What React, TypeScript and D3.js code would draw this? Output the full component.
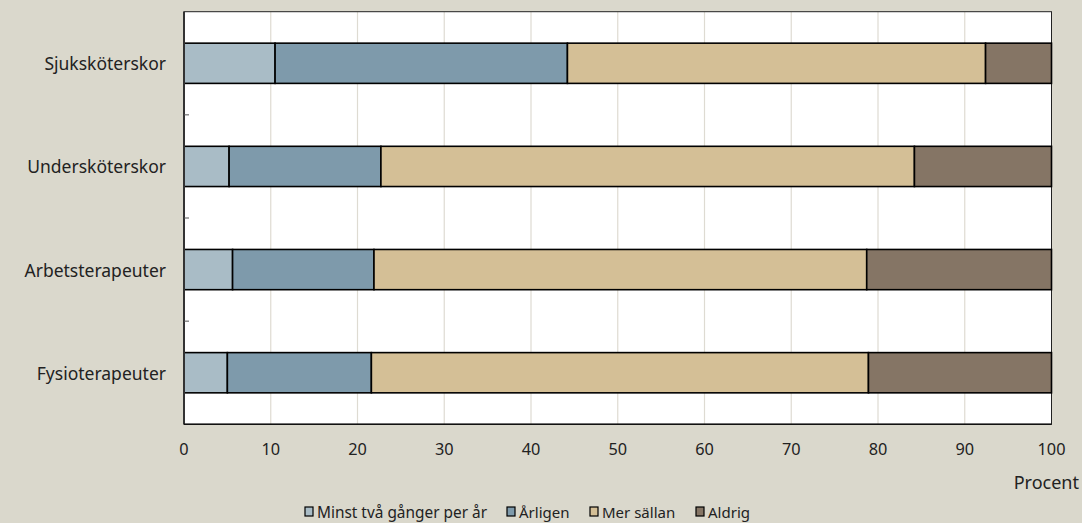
import React from "react";
import * as d3 from "d3";

const categories = ["Sjuksköterskor", "Undersköterskor", "Arbetsterapeuter", "Fysioterapeuter"];
const seriesNames = ["Minst två gånger per år", "Årligen", "Mer sällan", "Aldrig"];
const minstTva = [10.5, 5.2, 5.6, 5.0];
const arligen = [33.7, 17.5, 16.3, 16.6];
const merSallan = [48.2, 61.5, 56.8, 57.3];
const aldrig = [7.6, 15.8, 21.3, 21.1];
const xTicks = [0, 10, 20, 30, 40, 50, 60, 70, 80, 90, 100];
const colors = ["#A9BCC6", "#7E9AAB", "#D4BF96", "#857565"];

const W = 1082;
const H = 523;
const FONT = "'Noto Sans', 'DejaVu Sans', sans-serif";

export default function App() {
  const left = 184, right = 1051.5, top = 11.7, bottom = 424.3;
  const x = d3.scaleLinear().domain([0, 100]).range([left, right]);
  const y = d3.scaleBand<string>().domain(categories).range([top, bottom]).paddingInner(0.61).paddingOuter(0.305);
  const series = [minstTva, arligen, merSallan, aldrig];
  const rows = categories.map((c, i) => {
    let acc = 0;
    return series.map((s, k) => {
      const x0 = acc;
      acc += s[i];
      return { c, k, x0, x1: acc };
    });
  });
  const step = (bottom - top) / categories.length;
  const legendItems = [
    { sq: 305, tx: 317, fs: 15.4 },
    { sq: 507, tx: 519, fs: 15 },
    { sq: 590, tx: 602, fs: 15 },
    { sq: 696, tx: 708, fs: 15 },
  ];
  return (
    <svg width={W} height={H} style={{ position: "absolute", left: 0, top: 0, display: "block" }} fontFamily={FONT}>
      <rect x={0} y={0} width={W} height={H} fill="#DAD8CC" />
      <rect x={left} y={top} width={right - left} height={bottom - top} fill="#FFFFFF" />
      {xTicks.filter(t => t > 0 && t < 100).map(t => (
        <line key={t} x1={x(t)} x2={x(t)} y1={top} y2={bottom} stroke="#DEDBD2" strokeWidth={1.2} />
      ))}
      <rect x={left} y={top} width={right - left} height={bottom - top} fill="none" stroke="#222" strokeWidth={1} />
      {rows.map((r, i) => r.map(seg => (
        <rect key={i + "-" + seg.k} x={x(seg.x0)} y={y(seg.c)!} width={x(seg.x1) - x(seg.x0)} height={y.bandwidth()}
          fill={colors[seg.k]} stroke="#000" strokeWidth={1.6} />
      )))}
      <line x1={left} x2={left} y1={top} y2={bottom} stroke="#333" strokeWidth={2} />
      <line x1={left} x2={right} y1={bottom} y2={bottom} stroke="#111" strokeWidth={1.6} />
      {[1, 2, 3].map(j => (
        <line key={j} x1={left} x2={left + 5} y1={top + step * j} y2={top + step * j} stroke="#555" strokeWidth={1} />
      ))}
      {categories.map(c => (
        <text key={c} x={166} y={y(c)! + y.bandwidth() / 2} textAnchor="end" dominantBaseline="central" fontSize={17.5} fill="#222">{c}</text>
      ))}
      {xTicks.map(t => (
        <text key={t} x={x(t)} y={449} textAnchor="middle" dominantBaseline="central" fontSize={16.3} fill="#222">{t}</text>
      ))}
      <text x={1079} y={482} textAnchor="end" dominantBaseline="central" fontSize={18} fill="#222">Procent</text>
      {seriesNames.map((n, k) => (
        <g key={n}>
          <rect x={legendItems[k].sq} y={507} width={8} height={9} fill={colors[k]} stroke="#000" strokeWidth={1.2} />
          <text x={legendItems[k].tx} y={512} dominantBaseline="central" fontSize={legendItems[k].fs} fill="#222">{n}</text>
        </g>
      ))}
    </svg>
  );
}
